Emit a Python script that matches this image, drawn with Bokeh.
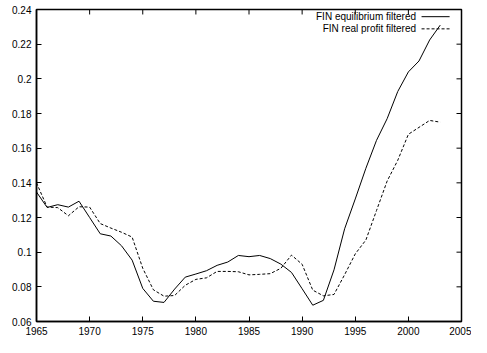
from bokeh.plotting import figure
from bokeh.models import FixedTicker, Range1d, ColumnDataSource
from bokeh.core.properties import value
from bokeh.embed import file_html
from bokeh.resources import INLINE

years = list(range(1965, 2004))
equilibrium = [0.1347, 0.1258, 0.1274, 0.1260, 0.1294, 0.1200, 0.1106, 0.1093, 0.1037, 0.0954,
               0.0791, 0.0717, 0.0710, 0.0787, 0.0856, 0.0874, 0.0893, 0.0924, 0.0943, 0.0981,
               0.0974, 0.0981, 0.0963, 0.0931, 0.0883, 0.0789, 0.0694, 0.0722, 0.0898, 0.1135,
               0.1307, 0.1484, 0.1645, 0.1770, 0.1927, 0.2040, 0.2103, 0.2224, 0.2310]
real_profit = [0.1400, 0.1260, 0.1257, 0.1210, 0.1262, 0.1260, 0.1165, 0.1139, 0.1115, 0.1087,
               0.0907, 0.0783, 0.0746, 0.0750, 0.0809, 0.0843, 0.0852, 0.0889, 0.0889, 0.0887,
               0.0869, 0.0872, 0.0876, 0.0907, 0.0983, 0.0930, 0.0781, 0.0748, 0.0756, 0.0870,
               0.0990, 0.1070, 0.1240, 0.1410, 0.1530, 0.1680, 0.1720, 0.1760, 0.1750]
series_names = ["FIN equilibrium filtered", "FIN real profit filtered"]
x_ticks = [1965, 1970, 1975, 1980, 1985, 1990, 1995, 2000, 2005]
y_ticks = [0.06, 0.08, 0.1, 0.12, 0.14, 0.16, 0.18, 0.2, 0.22, 0.24]
y_tick_labels = ["0.06", "0.08", "0.1", "0.12", "0.14", "0.16", "0.18", "0.2", "0.22", "0.24"]

X0, X1 = 1965, 2005
Y0, Y1 = 0.06, 0.24
FONT = "Liberation Sans"
FS = "10px"
TICK = 5
FRAME_W, FRAME_H = 425, 313  # approximate frame size in px, for mirrored tick length

p = figure(width=471, height=337, output_backend="svg", toolbar_location=None,
           x_range=Range1d(X0, X1), y_range=Range1d(Y0, Y1),
           min_border_left=36, min_border_right=10, min_border_top=9, min_border_bottom=10)
p.xgrid.visible = False
p.ygrid.visible = False
p.outline_line_color = "black"
p.outline_line_width = 1.5
p.background_fill_color = "white"
p.border_fill_color = "white"

src = ColumnDataSource(dict(year=years, eq=equilibrium, rp=real_profit))
p.line("year", "eq", source=src, line_color="black", line_width=1)
p.line("year", "rp", source=src, line_color="black", line_width=1, line_dash="3 2")

for ax, ticks in ((p.xaxis[0], x_ticks), (p.yaxis[0], y_ticks)):
    ax.ticker = FixedTicker(ticks=ticks)
    ax.major_tick_in = TICK
    ax.major_tick_out = 0
    ax.minor_tick_in = 0
    ax.minor_tick_out = 0
    ax.axis_line_color = "black"
    ax.axis_line_width = 1.5
    ax.major_tick_line_color = "black"
    ax.major_label_text_font = FONT
    ax.major_label_text_font_size = FS
    ax.major_label_text_color = "black"
    ax.major_label_standoff = 5
p.yaxis[0].major_label_overrides = {t: l for t, l in zip(y_ticks, y_tick_labels)}

# mirrored ticks on top and right borders (gnuplot style)
xs = X1 - X0
ys = Y1 - Y0
dy = TICK / FRAME_H * ys
dx = TICK / FRAME_W * xs
p.segment(x0=x_ticks, y0=[Y1] * len(x_ticks), x1=x_ticks, y1=[Y1 - dy] * len(x_ticks),
          line_color="black", line_width=1)
p.segment(x0=[X1] * len(y_ticks), y0=y_ticks, x1=[X1 - dx] * len(y_ticks), y1=y_ticks,
          line_color="black", line_width=1)

# gnuplot-style key: text right-aligned, sample line to the right
text_x = X0 + 0.893 * xs
line_x0 = X0 + 0.906 * xs
line_x1 = X0 + 0.972 * xs
row_y = [Y1 - 0.023 * ys, Y1 - 0.062 * ys]
dashes = ["solid", "3 2"]
for name, ry, dash in zip(series_names, row_y, dashes):
    p.text(x=[text_x], y=[ry], text=[name], text_align="right", text_baseline="middle",
           text_font=value(FONT), text_font_size=FS, text_color="black")
    p.segment(x0=[line_x0], y0=[ry], x1=[line_x1], y1=[ry], line_color="black",
              line_width=1, line_dash=dash)

open("out.html", "w").write(file_html(p, INLINE))
